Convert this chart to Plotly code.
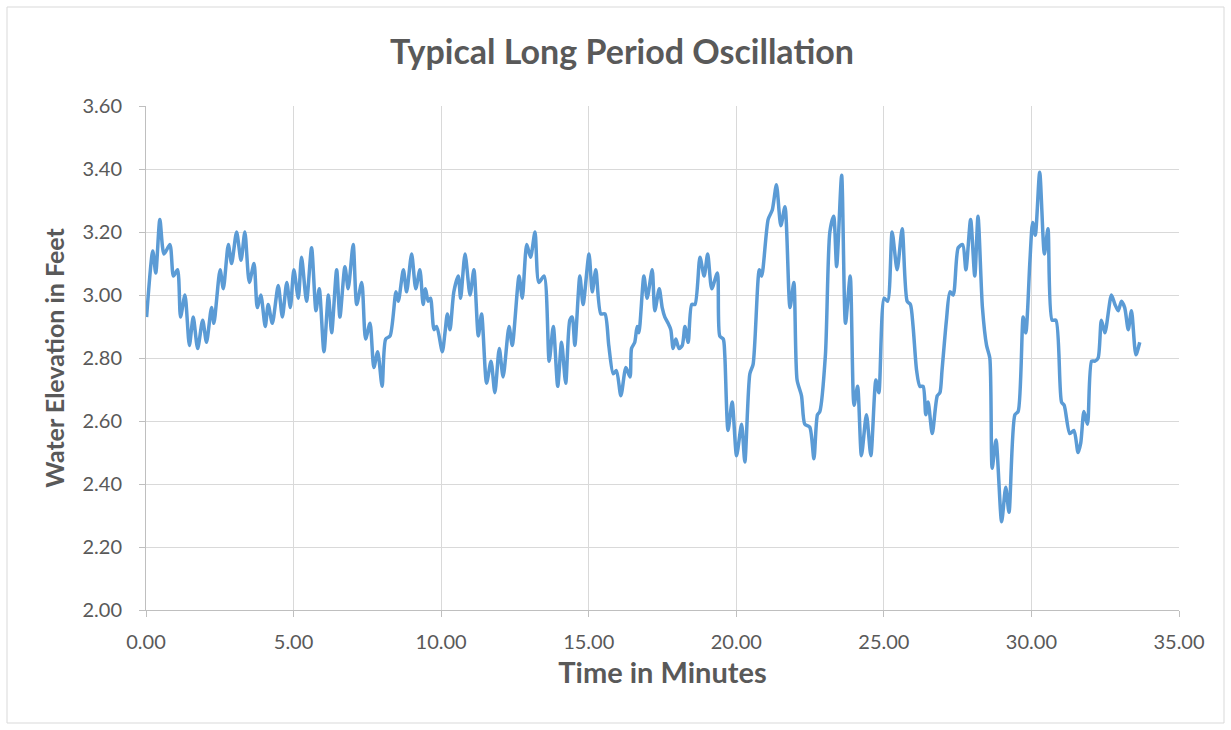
import plotly.graph_objects as go

# Elapsed time (minutes) and measured water surface elevation (feet)
time_min = [
    0.02, 0.23, 0.33, 0.47, 0.61, 0.81, 0.93, 1.07, 1.17, 1.32, 1.47, 1.60, 1.75, 1.92, 2.05,
    2.22, 2.30, 2.51, 2.62, 2.79, 2.90, 3.07, 3.22, 3.35, 3.50, 3.66, 3.77, 3.89, 4.04, 4.14,
    4.28, 4.48, 4.62, 4.77, 4.89, 5.01, 5.16, 5.27, 5.44, 5.61, 5.76, 5.87, 6.03, 6.18, 6.29,
    6.46, 6.57, 6.74, 6.85, 7.02, 7.14, 7.31, 7.44, 7.59, 7.72, 7.85, 8.00, 8.12, 8.27, 8.47,
    8.55, 8.72, 8.83, 9.00, 9.14, 9.28, 9.39, 9.47, 9.56, 9.64, 9.76, 9.85, 10.04, 10.13, 10.21,
    10.30, 10.43, 10.58, 10.66, 10.81, 10.98, 11.11, 11.26, 11.37, 11.54, 11.69, 11.82, 11.97,
    12.10, 12.30, 12.41, 12.64, 12.75, 12.90, 13.03, 13.18, 13.31, 13.49, 13.66, 13.80, 13.95,
    14.08, 14.22, 14.36, 14.44, 14.53, 14.70, 14.81, 15.01, 15.12, 15.24, 15.41, 15.55, 15.68,
    15.83, 15.94, 16.09, 16.26, 16.40, 16.45, 16.56, 16.64, 16.70, 16.87, 16.98, 17.15, 17.24,
    17.39, 17.49, 17.58, 17.69, 17.78, 17.86, 17.95, 18.06, 18.17, 18.26, 18.37, 18.49, 18.60,
    18.77, 18.91, 19.03, 19.17, 19.36, 19.44, 19.56, 19.61, 19.72, 19.86, 20.01, 20.18, 20.29,
    20.46, 20.57, 20.78, 20.86, 21.08, 21.22, 21.36, 21.51, 21.65, 21.82, 21.95, 22.06, 22.21,
    22.32, 22.49, 22.63, 22.75, 22.83, 23.02, 23.17, 23.30, 23.40, 23.57, 23.70, 23.86, 23.99,
    24.11, 24.24, 24.41, 24.56, 24.73, 24.83, 25.01, 25.13, 25.28, 25.45, 25.62, 25.79, 25.90,
    25.99, 26.11, 26.22, 26.33, 26.42, 26.50, 26.64, 26.81, 26.90, 26.97, 27.12, 27.24, 27.35,
    27.52, 27.67, 27.78, 27.94, 28.08, 28.19, 28.34, 28.48, 28.59, 28.67, 28.80, 28.99, 29.13,
    29.24, 29.44, 29.55, 29.72, 29.81, 29.95, 30.04, 30.13, 30.28, 30.44, 30.56, 30.70, 30.83,
    31.02, 31.11, 31.30, 31.44, 31.58, 31.67, 31.78, 31.90, 32.04, 32.15, 32.26, 32.37, 32.49,
    32.71, 32.83, 32.94, 33.05, 33.16, 33.28, 33.39, 33.54, 33.67,
]
elevation_ft = [
    2.93, 3.14, 3.07, 3.24, 3.13, 3.16, 3.06, 3.08, 2.93, 3.00, 2.84, 2.93, 2.83, 2.92, 2.85,
    2.96, 2.91, 3.08, 3.02, 3.16, 3.10, 3.20, 3.11, 3.20, 3.04, 3.10, 2.96, 3.00, 2.90, 2.97,
    2.91, 3.03, 2.93, 3.04, 2.96, 3.08, 2.99, 3.12, 2.98, 3.15, 2.95, 3.02, 2.82, 3.00, 2.88,
    3.08, 2.93, 3.09, 3.02, 3.16, 2.97, 3.04, 2.86, 2.91, 2.77, 2.82, 2.71, 2.86, 2.87, 3.01,
    2.98, 3.08, 3.01, 3.13, 3.02, 3.08, 2.97, 3.02, 2.98, 2.99, 2.89, 2.90, 2.82, 2.88, 2.94,
    2.89, 3.01, 3.06, 2.99, 3.13, 3.00, 3.08, 2.87, 2.94, 2.72, 2.79, 2.69, 2.83,
    2.74, 2.90, 2.84, 3.06, 2.99, 3.16, 3.12, 3.20, 3.04, 3.06, 2.79, 2.90, 2.71,
    2.85, 2.72, 2.92, 2.93, 2.84, 3.06, 2.97, 3.13, 3.01, 3.08, 2.94, 2.94, 2.84,
    2.75, 2.76, 2.68, 2.77, 2.74, 2.83, 2.85, 2.90, 2.88, 3.06, 2.99, 3.08, 2.95,
    3.02, 2.96, 2.93, 2.91, 2.89, 2.83, 2.86, 2.83, 2.84, 2.90, 2.85, 2.97, 2.97,
    3.12, 3.06, 3.13, 3.02, 3.07, 2.87, 2.86, 2.81, 2.57, 2.66, 2.49, 2.59, 2.47,
    2.75, 2.78, 3.08, 3.06, 3.24, 3.27, 3.35, 3.22, 3.28, 2.96, 3.04, 2.73, 2.68,
    2.59, 2.58, 2.48, 2.62, 2.63, 2.81, 3.20, 3.25, 3.09, 3.38, 2.91, 3.06, 2.65,
    2.71, 2.49, 2.62, 2.49, 2.73, 2.69, 2.99, 2.98, 3.20, 3.08, 3.21, 2.98, 2.97,
    2.90, 2.76, 2.71, 2.71, 2.62, 2.66, 2.56, 2.68, 2.69, 2.76, 2.92, 3.01, 3.00,
    3.15, 3.16, 3.08, 3.24, 3.06, 3.25, 2.96, 2.84, 2.80, 2.45, 2.54, 2.28, 2.39,
    2.31, 2.62, 2.63, 2.93, 2.88, 3.11, 3.23, 3.19, 3.39, 3.13, 3.21, 2.92, 2.92,
    2.66, 2.65, 2.56, 2.57, 2.50, 2.53, 2.63, 2.59, 2.79, 2.79, 2.80, 2.92, 2.88,
    3.00, 2.97, 2.95, 2.98, 2.96, 2.89, 2.95, 2.81, 2.85,
]

x_ticks = [0, 5, 10, 15, 20, 25, 30, 35]
y_ticks = [2.0, 2.2, 2.4, 2.6, 2.8, 3.0, 3.2, 3.4, 3.6]

FONT = "Lato"
TEXT = "#595959"
GRID = "#d9d9d9"
AXIS = "#bfbfbf"

fig = go.Figure()
fig.add_trace(go.Scatter(
    x=time_min, y=elevation_ft, mode="lines",
    line=dict(color="#5b9bd5", width=3.5, shape="spline", smoothing=0.7),
    showlegend=False, hoverinfo="x+y",
))

# Margins fix the plot area; the paper-ref rectangle is the outer chart frame
L, R, T, B = 146, 52, 106, 120
W, H = 1231, 730
pw, ph = W - L - R, H - T - B
fig.add_shape(
    type="rect", xref="paper", yref="paper",
    x0=(7 - L) / pw, x1=(1224 - L) / pw,
    y0=(H - B - 723) / ph, y1=(H - B - 7) / ph,
    line=dict(color=GRID, width=1), fillcolor="rgba(0,0,0,0)", layer="below",
)

fig.update_layout(
    width=W, height=H,
    margin=dict(l=L, r=R, t=T, b=B),
    paper_bgcolor="white", plot_bgcolor="white",
    font=dict(family=FONT, color=TEXT, size=16),
    title=dict(
        text="<b>Typical Long Period Oscillation</b>",
        x=622 / W, xref="container", xanchor="center",
        y=1 - 52 / H, yref="container", yanchor="middle",
        font=dict(family=FONT, size=34, color=TEXT),
    ),
)
fig.update_xaxes(
    range=[0, 35], tickvals=x_ticks, tickformat=".2f",
    showgrid=True, gridcolor=GRID, gridwidth=1,
    showline=True, linecolor=AXIS, linewidth=1,
    ticks="outside", ticklen=6, tickcolor=AXIS,
    ticklabelstandoff=8,
    zeroline=False, tickfont=dict(size=20, color=TEXT),
    title=dict(text="<b>Time in Minutes</b>", font=dict(size=29, color=TEXT), standoff=10),
)
fig.update_yaxes(
    range=[2.0, 3.6], tickvals=y_ticks, tickformat=".2f",
    showgrid=True, gridcolor=GRID, gridwidth=1,
    showline=True, linecolor=AXIS, linewidth=1,
    ticks="outside", ticklen=6, tickcolor=AXIS,
    ticklabelstandoff=13,
    zeroline=False, tickfont=dict(size=20, color=TEXT),
    title=dict(text="<b>Water Elevation in Feet</b>", font=dict(size=25, color=TEXT), standoff=10),
)

fig.write_html("out.html")
